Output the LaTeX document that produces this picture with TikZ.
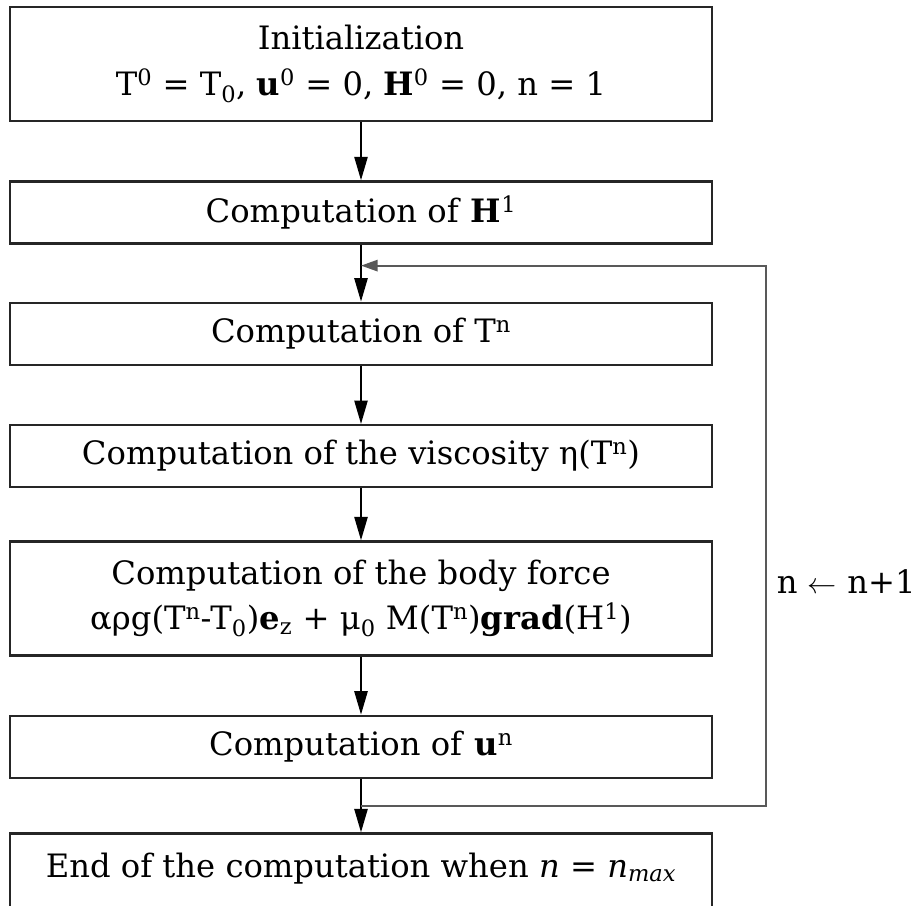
\documentclass[tikz,border=0pt]{standalone}
\usepackage{fontspec}
\setmainfont{DejaVu Serif}
\usetikzlibrary{positioning,arrows.meta,calc}
\tikzset{
  stepbox/.style={draw=black!85, line width=2pt, minimum width=21.06cm, minimum height=1.86cm,
                  inner sep=2pt, align=center, font=\fontsize{27.5}{39}\selectfont},
  tallbox/.style={stepbox, minimum height=3.42cm},
  flow/.style={-{Triangle[length=7mm, width=4mm]}, line width=1.2pt},
  back/.style={-{Triangle[length=5mm, width=3.4mm]}, line width=1.7pt, black!65},
  lbl/.style={font=\fontsize{27.5}{30}\selectfont, anchor=west, inner sep=2pt}
}

\begin{document}
\begin{tikzpicture}[node distance=1.74cm]
    \useasboundingbox (0,0) rectangle (27.57,-27.15);
    \node[tallbox] (init) at (10.83,-1.92)
      {Initialization\\ T\textsuperscript{0} = T\textsubscript{0}, \textbf{u}\textsuperscript{0} = 0, \textbf{H}\textsuperscript{0} = 0, n = 1};
    \node[stepbox, below=of init] (compH) {Computation of \textbf{H}\textsuperscript{1}};
    \node[stepbox, below=1.71cm of compH] (compT) {Computation of T\textsuperscript{n}};
    \node[stepbox, below=of compT] (compVisc) {Computation of the viscosity η(T\textsuperscript{n})};
    \node[tallbox, below=1.56cm of compVisc] (compForce)
      {Computation of the body force\\ αρg(T\textsuperscript{n}-T\textsubscript{0})\textbf{e}\textsubscript{z} + μ\textsubscript{0} M(T\textsuperscript{n})\textbf{grad}(H\textsuperscript{1})};
    \node[stepbox, below=of compForce] (compU) {Computation of \textbf{u}\textsuperscript{n}};
    \node[stepbox, below=1.6cm of compU, text height=1.24cm, text depth=1cm] (stop)
      {End of the computation when \textit{n} = \textit{n}\textsubscript{\textit{max}}};
    \draw[flow] (init) -- (compH);
    \draw[flow] (compH) -- (compT);
    \draw[flow] (compT) -- (compVisc);
    \draw[flow] (compVisc) -- (compForce);
    \draw[flow] (compForce) -- (compU);
    \draw[flow] (compU) -- (stop);
    % iteration loop
    \coordinate (loopout) at ($(compU.south)!0.5!(stop.north)$);
    \coordinate (loopin) at ($(compH.south)!0.37!(compT.north)$);
    \coordinate (loopright) at (22.98,0);
    \draw[back] (loopout) -- (loopout -| loopright) -- (loopin -| loopright) -- (loopin);
    \node[lbl] (incr) at ($(loopout -| loopright)!0.415!(loopin -| loopright)$) [xshift=2.5mm] {n $\leftarrow$ n+1};
  \end{tikzpicture}
\end{document}
